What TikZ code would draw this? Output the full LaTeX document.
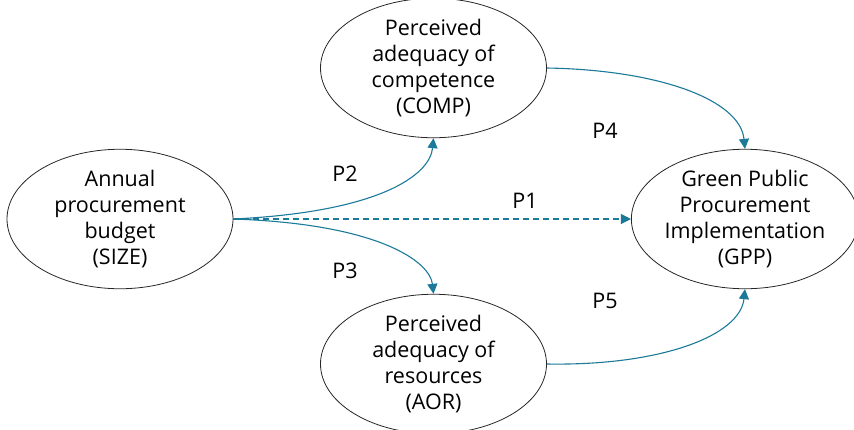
\documentclass[tikz,border=0pt]{standalone}
\usepackage{fontspec}
\setmainfont{Open Sans}
\usetikzlibrary{shapes.geometric,arrows.meta}
\definecolor{pathblue}{HTML}{1B7A99}
\begin{document}
\begin{tikzpicture}[x=1pt,y=-1pt,
  construct/.style={draw=black!85,line width=0.8pt,ellipse,minimum width=#1,align=center,font=\fontsize{21.5}{26.3}\selectfont,inner sep=0pt},
  construct/.default={226pt},
  path arrow/.style={draw=pathblue,line width=1.1pt,-{Triangle[length=10pt,width=10pt]}},
  plabel/.style={font=\fontsize{21.5}{24}\selectfont}]
\useasboundingbox (0,0) rectangle (854,429);
% constructs
\node[construct, minimum height=125pt] (size) at (120,219) {Annual\\procurement\\budget\\(SIZE)};
\node[construct, minimum height=126pt] (comp) at (433.5,68) {Perceived\\adequacy of\\competence\\(COMP)};
\node[construct, minimum height=126pt] (aor) at (433.5,364) {Perceived\\adequacy of\\resources\\(AOR)};
\node[construct={218pt}, minimum height=123pt] (gpp) at (745,219) {Green Public\\Procurement\\Implementation\\(GPP)};
% hypothesised paths
\draw[path arrow] (size.east) .. controls (380,212) and (430,175) .. (comp.south);
\draw[path arrow] (size.east) .. controls (380,224) and (430,262) .. (aor.north);
\draw[path arrow, dashed, dash pattern=on 6pt off 4pt] (size.east) -- (gpp.west);
\draw[path arrow] (comp.east) .. controls (660,70) and (740,100) .. (gpp.north);
\draw[path arrow] (aor.east) .. controls (660,366) and (740,336) .. (gpp.south);
% path labels
\node[plabel] (p1) at (525,201) {P1};
\node[plabel] (p2) at (345,174) {P2};
\node[plabel] (p3) at (345,271) {P3};
\node[plabel] (p4) at (605,131) {P4};
\node[plabel] (p5) at (605,301) {P5};
\end{tikzpicture}
\end{document}
